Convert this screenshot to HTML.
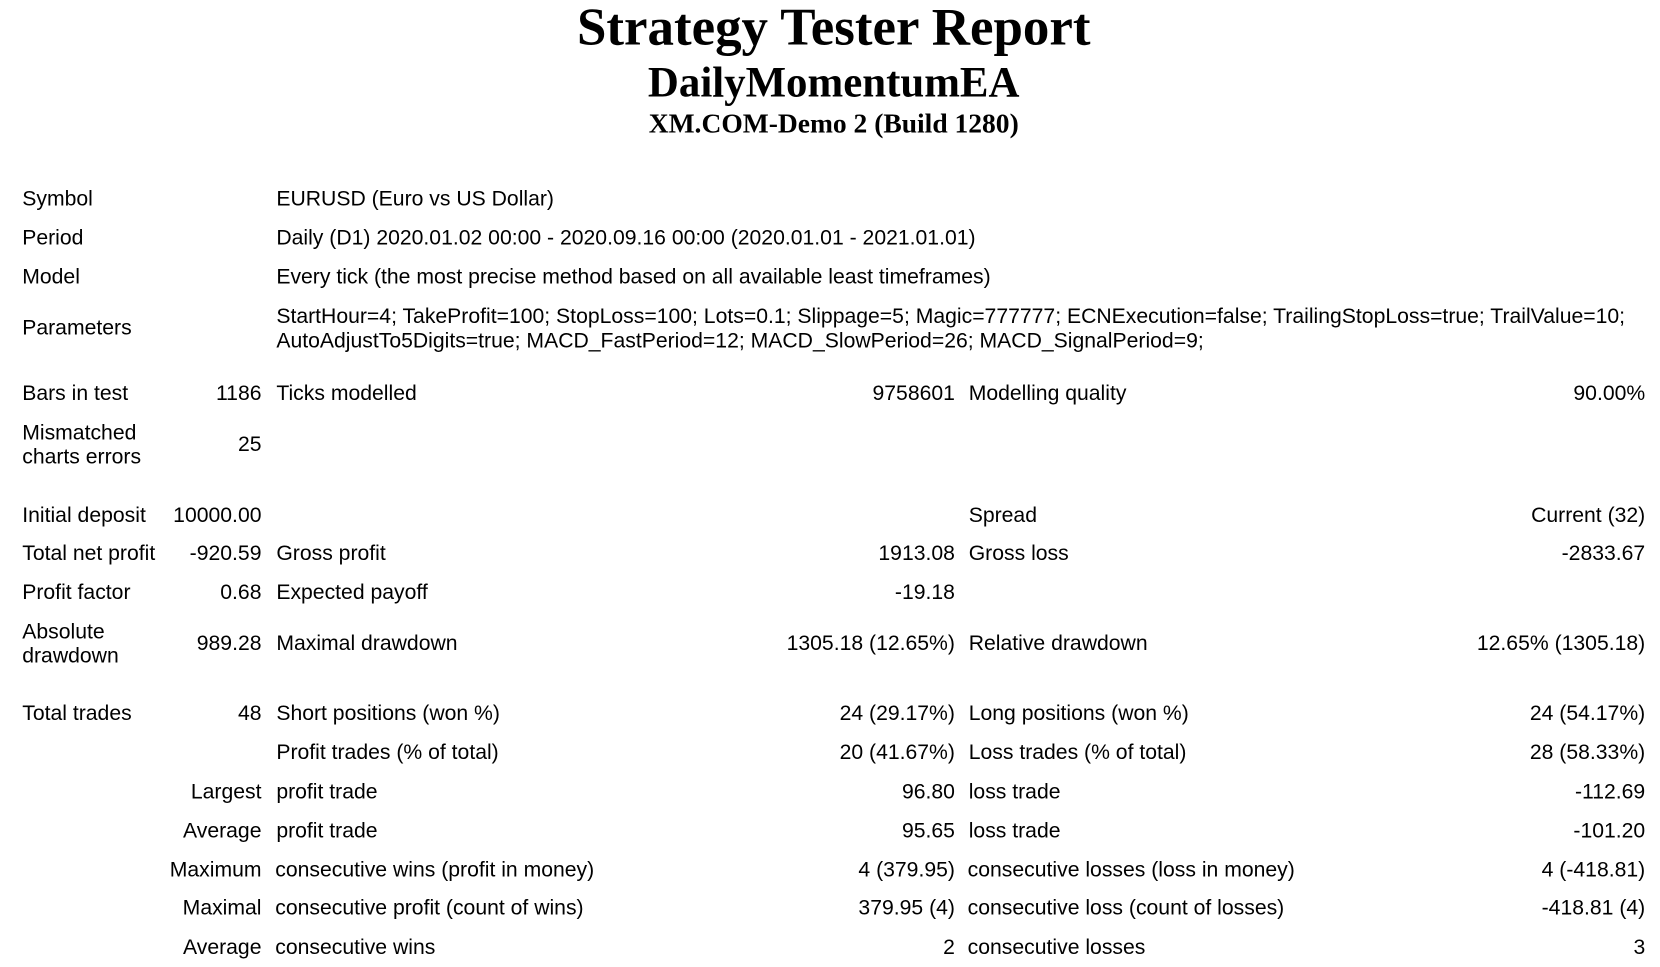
<!DOCTYPE html>
<html><head><meta charset="utf-8"><style>
body{margin:0;width:1660px;height:966px;background:#fff;position:relative;overflow:hidden;font-family:"Liberation Sans","DejaVu Sans",sans-serif;color:#000}
#wrap{position:absolute;left:0;top:0;width:1568px;height:913px;transform:scale(1.0587);transform-origin:0 0}
.t{position:absolute;font-family:"Liberation Serif",serif;font-weight:bold;text-align:center;left:0;width:1575px;white-space:nowrap}
.c{position:absolute;font-size:20px;letter-spacing:0;line-height:23px;white-space:nowrap}
.r{text-align:right}
</style></head><body>
<div id="wrap">
<div class="t" style="top:-3px;font-size:50px;line-height:56px">Strategy Tester Report</div>
<div class="t" style="top:56px;font-size:40.5px;line-height:44px">DailyMomentumEA</div>
<div class="t" style="top:102px;font-size:26px;line-height:30px">XM.COM-Demo 2 (Build 1280)</div>

<div class="c" style="left:21px;top:177px">Symbol</div>
<div class="c" style="left:261px;top:177px">EURUSD (Euro vs US Dollar)</div>
<div class="c" style="left:21px;top:214px">Period</div>
<div class="c" style="left:261px;top:214px">Daily (D1) 2020.01.02 00:00 - 2020.09.16 00:00 (2020.01.01 - 2021.01.01)</div>
<div class="c" style="left:21px;top:251px">Model</div>
<div class="c" style="left:261px;top:251px">Every tick (the most precise method based on all available least timeframes)</div>
<div class="c" style="left:21px;top:299px">Parameters</div>
<div class="c" style="left:261px;top:288px">StartHour=4; TakeProfit=100; StopLoss=100; Lots=0.1; Slippage=5; Magic=777777; ECNExecution=false; TrailingStopLoss=true; TrailValue=10;<br>AutoAdjustTo5Digits=true; MACD_FastPeriod=12; MACD_SlowPeriod=26; MACD_SignalPeriod=9;</div>

<div class="c" style="left:21px;top:361px">Bars in test</div>
<div class="c r" style="right:1321px;top:361px">1186</div>
<div class="c" style="left:261px;top:361px">Ticks modelled</div>
<div class="c r" style="right:666px;top:361px">9758601</div>
<div class="c" style="left:915px;top:361px">Modelling quality</div>
<div class="c r" style="right:14px;top:361px">90.00%</div>
<div class="c" style="left:21px;top:398px">Mismatched<br>charts errors</div>
<div class="c r" style="right:1321px;top:409px">25</div>

<div class="c" style="left:21px;top:476px">Initial deposit</div>
<div class="c r" style="right:1321px;top:476px">10000.00</div>
<div class="c" style="left:915px;top:476px">Spread</div>
<div class="c r" style="right:14px;top:476px">Current (32)</div>

<div class="c" style="left:21px;top:512px">Total net profit</div>
<div class="c r" style="right:1321px;top:512px">-920.59</div>
<div class="c" style="left:261px;top:512px">Gross profit</div>
<div class="c r" style="right:666px;top:512px">1913.08</div>
<div class="c" style="left:915px;top:512px">Gross loss</div>
<div class="c r" style="right:14px;top:512px">-2833.67</div>

<div class="c" style="left:21px;top:549px">Profit factor</div>
<div class="c r" style="right:1321px;top:549px">0.68</div>
<div class="c" style="left:261px;top:549px">Expected payoff</div>
<div class="c r" style="right:666px;top:549px">-19.18</div>

<div class="c" style="left:21px;top:586px">Absolute<br>drawdown</div>
<div class="c r" style="right:1321px;top:597px">989.28</div>
<div class="c" style="left:261px;top:597px">Maximal drawdown</div>
<div class="c r" style="right:666px;top:597px">1305.18 (12.65%)</div>
<div class="c" style="left:915px;top:597px">Relative drawdown</div>
<div class="c r" style="right:14px;top:597px">12.65% (1305.18)</div>

<div class="c" style="left:21px;top:663px">Total trades</div>
<div class="c r" style="right:1321px;top:663px">48</div>
<div class="c" style="left:261px;top:663px">Short positions (won %)</div>
<div class="c r" style="right:666px;top:663px">24 (29.17%)</div>
<div class="c" style="left:915px;top:663px">Long positions (won %)</div>
<div class="c r" style="right:14px;top:663px">24 (54.17%)</div>

<div class="c" style="left:261px;top:700px">Profit trades (% of total)</div>
<div class="c r" style="right:666px;top:700px">20 (41.67%)</div>
<div class="c" style="left:915px;top:700px">Loss trades (% of total)</div>
<div class="c r" style="right:14px;top:700px">28 (58.33%)</div>

<div class="c r" style="right:1321px;top:737px">Largest</div>
<div class="c" style="left:261px;top:737px">profit trade</div>
<div class="c r" style="right:666px;top:737px">96.80</div>
<div class="c" style="left:915px;top:737px">loss trade</div>
<div class="c r" style="right:14px;top:737px">-112.69</div>

<div class="c r" style="right:1321px;top:774px">Average</div>
<div class="c" style="left:261px;top:774px">profit trade</div>
<div class="c r" style="right:666px;top:774px">95.65</div>
<div class="c" style="left:915px;top:774px">loss trade</div>
<div class="c r" style="right:14px;top:774px">-101.20</div>

<div class="c r" style="right:1321px;top:811px">Maximum</div>
<div class="c" style="left:260px;top:811px">consecutive wins (profit in money)</div>
<div class="c r" style="right:666px;top:811px">4 (379.95)</div>
<div class="c" style="left:914px;top:811px">consecutive losses (loss in money)</div>
<div class="c r" style="right:14px;top:811px">4 (-418.81)</div>

<div class="c r" style="right:1321px;top:847px">Maximal</div>
<div class="c" style="left:260px;top:847px">consecutive profit (count of wins)</div>
<div class="c r" style="right:666px;top:847px">379.95 (4)</div>
<div class="c" style="left:914px;top:847px">consecutive loss (count of losses)</div>
<div class="c r" style="right:14px;top:847px">-418.81 (4)</div>

<div class="c r" style="right:1321px;top:884px">Average</div>
<div class="c" style="left:260px;top:884px">consecutive wins</div>
<div class="c r" style="right:666px;top:884px">2</div>
<div class="c" style="left:914px;top:884px">consecutive losses</div>
<div class="c r" style="right:14px;top:884px">3</div>
</div>
</body></html>
